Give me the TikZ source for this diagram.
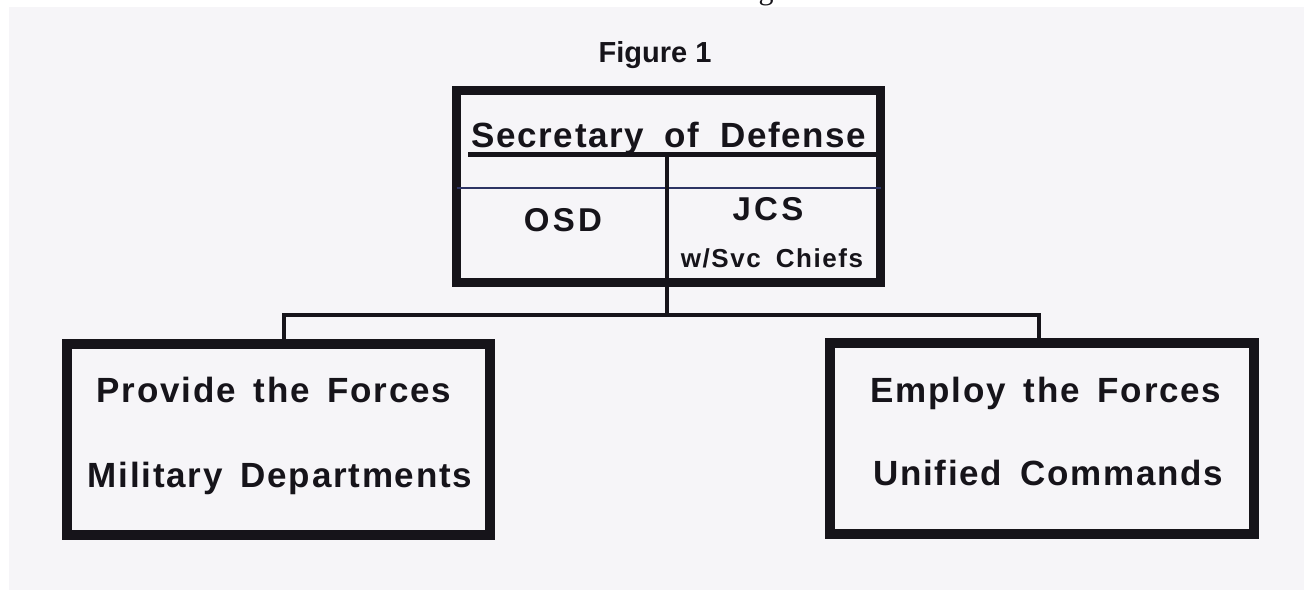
\documentclass[tikz,border=0pt]{standalone}
\usepackage{fontspec}
\newfontfamily\arb{Liberation Sans}
\newfontfamily\tms{Liberation Serif}
\definecolor{page}{RGB}{246,245,248}
\definecolor{ink}{RGB}{22,20,26}
\definecolor{navy}{RGB}{45,52,100}
\newcommand\secfnt{\arb\bfseries\fontsize{35}{40}\selectfont\addfontfeatures{LetterSpace=4.5}\spaceskip 21pt\relax}
\newcommand\svcfnt{\arb\bfseries\fontsize{26}{30}\selectfont\addfontfeatures{LetterSpace=6}\spaceskip 15pt\relax}
\newcommand\bigfnt{\arb\bfseries\fontsize{35}{40}\selectfont\addfontfeatures{LetterSpace=5}\spaceskip 18pt\relax}
\tikzset{
  thickbox/.style={draw=ink,line width=9.5pt,inner sep=0pt,outer sep=0pt},
  lbl/.style={anchor=base,inner sep=0pt,outer sep=0pt,text=ink},
  conn/.style={draw=ink,line width=3.3pt},
  bigtxt/.style={font=\bigfnt},
}
\begin{document}
\begin{tikzpicture}[x=1pt,y=-1pt]
\useasboundingbox (0,0) rectangle (1304,590);
\clip (0,0) rectangle (1304,590);
\fill[white] (0,0) rectangle (1304,590);
\fill[page] (9,7) rectangle (1304,590);
% fragment of a line above
\node[lbl,font=\tms\fontsize{30}{30}\selectfont] (frag) at (766,-0.5) {g};
% title
\node[lbl,font=\arb\bfseries\fontsize{29}{32}\selectfont] (fig) at (655,62) {Figure 1};
% top box
\node[thickbox,minimum width=424pt,minimum height=192pt] (sec) at (668.5,186.5) {};
\node[lbl,font=\secfnt] (sectxt) at (669,147) {Secretary of Defense};
\coordinate (ul) at (468,154.5);
\draw[draw=ink,line width=5pt] (ul) -- (ul -| sec.east);
\draw[draw=navy,line width=2.6pt] ([yshift=-33.5pt]ul -| sec.west) -- ([yshift=-33.5pt]ul -| sec.east);
\node[lbl,font=\arb\bfseries\fontsize{33}{36}\selectfont\addfontfeatures{LetterSpace=10}] (osd) at (563,231) {OSD};
\node[lbl,font=\arb\bfseries\fontsize{33}{36}\selectfont\addfontfeatures{LetterSpace=10}] (jcs) at (768,220) {JCS};
\node[lbl,font=\svcfnt] (svc) at (772,267) {w/Svc Chiefs};
% lower boxes
\node[thickbox,minimum width=423pt,minimum height=191pt] (prov) at (278.5,439.5) {};
\node[thickbox,minimum width=424pt,minimum height=191pt] (emp) at (1042,438.5) {};
\node[lbl,bigtxt] (provtxt) at (274,402) {Provide the Forces};
\node[lbl,bigtxt] (miltxt) at (280,487) {Military Departments};
\node[lbl,bigtxt] (emptxt) at (1046,402) {Employ the Forces};
\node[lbl,bigtxt] (unitxt) at (1048,485) {Unified Commands};
% connectors
\coordinate (j) at (667,315);
\coordinate (jl) at (284,315);
\coordinate (jr) at (1039,315);
\draw[conn] (j |- ul) -- (j);
\draw[conn] (jl |- prov.north) -- (jl) -- (jr) -- (jr |- emp.north);
\end{tikzpicture}
\end{document}
